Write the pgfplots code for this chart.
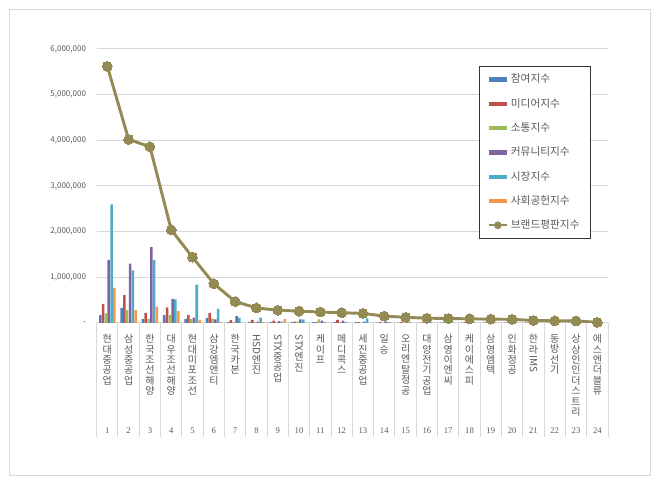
\documentclass[border=0pt]{standalone}
\usepackage{fontspec}
\setmainfont{Noto Sans CJK KR}
\newfontfamily\numfont{Liberation Serif}
\usepackage{graphicx}
\usepackage{pgfplots}
\pgfplotsset{compat=1.18}

\definecolor{cA}{HTML}{4F81BD}
\definecolor{cB}{HTML}{C0504D}
\definecolor{cC}{HTML}{9BBB59}
\definecolor{cD}{HTML}{8064A2}
\definecolor{cE}{HTML}{4BACC6}
\definecolor{cF}{HTML}{F79646}
\definecolor{cLine}{HTML}{948A54}
\definecolor{txt}{HTML}{595959}
\definecolor{grd}{HTML}{D9D9D9}

% stacked (vertical) tick label, one character per row
\newcommand\vl[1]{\vbox{\baselineskip=7.8pt\lineskiplimit=0pt\lineskip=0.6pt
  \halign{\hfil##\hfil\cr#1\crcr}}}
\newcommand\rl[1]{\raisebox{6pt}{\rotatebox{-90}{#1}}}

\pgfplotsset{
  barleg/.style={legend image code/.code={\fill[##1] (0pt,-1.6pt) rectangle (14pt,1.6pt);}},
}

% values: 참여, 미디어, 소통, 커뮤니티, 시장, 사회공헌, 브랜드평판
\pgfplotstableread{
x   a       b       c       d        e        f       t
1   175000  420000  210000  1380000  2600000  770000  5620000
2   330000  610000  280000  1300000  1150000  280000  4020000
3   90000   220000  90000   1660000  1380000  360000  3860000
4   170000  340000  170000  530000   520000   260000  2040000
5   90000   170000  90000   120000   840000   70000   1440000
6   110000  220000  100000  80000    310000   20000   860000
7   20000   65000   20000   150000   120000   10000   470000
8   20000   70000   20000   30000    120000   20000   330000
9   20000   50000   20000   40000    30000    90000   280000
10  20000   30000   30000   80000    80000    10000   260000
11  20000   20000   80000   50000    20000    10000   240000
12  20000   70000   20000   50000    20000    10000   225000
13  20000   20000   10000   30000    100000   10000   210000
14  10000   20000   10000   30000    20000    10000   150000
15  10000   20000   10000   25000    20000    5000    125000
16  10000   15000   10000   20000    20000    5000    105000
17  10000   15000   10000   20000    15000    5000    100000
18  10000   15000   8000    15000    15000    5000    90000
19  8000    12000   8000    15000    15000    5000    85000
20  8000    12000   8000    15000    12000    5000    80000
21  6000    10000   6000    10000    10000    4000    55000
22  6000    10000   6000    10000    8000     4000    48000
23  6000    8000    6000    8000     8000     4000    45000
24  3000    4000    3000    4000     4000     2000    15000
}\data

\begin{document}
\begin{tikzpicture}
\path (0pt,0pt) rectangle (495pt,363.75pt);
\draw[grd, line width=0.75pt] (7.1pt,6.75pt) rectangle (487.5pt,356.6pt);
\begin{axis}[
  at={(72.5pt,121.5pt)}, anchor=south west,
  scale only axis, width=383.5pt, height=205.5pt,
  xmin=0.5, xmax=24.5, ymin=0, ymax=6000000,
  axis line style={draw=none},
  ymajorgrids, grid style={grd, line width=0.75pt},
  xtick pos=bottom, ytick pos=left,
  tick align=outside, major tick length=0pt,
  minor tick length=85.5pt,
  minor x tick style={grd, line width=0.75pt},
  minor xtick={0.5,1.5,...,24.5},
  scaled y ticks=false,
  ytick={0,1000000,2000000,3000000,4000000,5000000,6000000},
  yticklabels={{-},{1,000,000},{2,000,000},{3,000,000},{4,000,000},{5,000,000},{6,000,000}},
  yticklabel style={font=\fontsize{6}{7}\selectfont, text=txt, xshift=-4.5pt},
  xtick={1,...,24},
  xticklabels={
    {\vl{현\cr 대\cr 중\cr 공\cr 업}},
    {\vl{삼\cr 성\cr 중\cr 공\cr 업}},
    {\vl{한\cr 국\cr 조\cr 선\cr 해\cr 양}},
    {\vl{대\cr 우\cr 조\cr 선\cr 해\cr 양}},
    {\vl{현\cr 대\cr 미\cr 포\cr 조\cr 선}},
    {\vl{삼\cr 강\cr 엠\cr 앤\cr 티}},
    {\vl{한\cr 국\cr 카\cr 본}},
    {\vl{\rl{HSD}\cr 엔\cr 진}},
    {\vl{\rl{STX}\cr 중\cr 공\cr 업}},
    {\vl{\rl{STX}\cr 엔\cr 진}},
    {\vl{케\cr 이\cr 프}},
    {\vl{메\cr 디\cr 콕\cr 스}},
    {\vl{세\cr 진\cr 중\cr 공\cr 업}},
    {\vl{일\cr 승}},
    {\vl{오\cr 리\cr 엔\cr 탈\cr 정\cr 공}},
    {\vl{대\cr 양\cr 전\cr 기\cr 공\cr 업}},
    {\vl{삼\cr 영\cr 이\cr 엔\cr 씨}},
    {\vl{케\cr 이\cr 에\cr 스\cr 피}},
    {\vl{삼\cr 영\cr 엠\cr 텍}},
    {\vl{인\cr 화\cr 정\cr 공}},
    {\vl{한\cr 라\cr \rl{IMS}}},
    {\vl{동\cr 방\cr 선\cr 기}},
    {\vl{상\cr 상\cr 인\cr 인\cr 더\cr 스\cr 트\cr 리}},
    {\vl{에\cr 스\cr 엔\cr 더\cr 블\cr 류}}},
  xticklabel style={font=\fontsize{7.5}{9}\selectfont, text=txt, anchor=north, yshift=-5pt},
  extra x ticks={1,...,24},
  extra x tick labels={1,2,3,4,5,6,7,8,9,10,11,12,13,14,15,16,17,18,19,20,21,22,23,24},
  extra x tick style={grid=none, major tick length=0pt,
    xticklabel style={font=\numfont\fontsize{6.5}{7}\selectfont, anchor=base, yshift=-78pt}},
  legend style={at={(0.748,0.939)}, anchor=north west, draw=black!80, line width=0.6pt,
    font=\fontsize{8}{9.5}\selectfont, text=txt, row sep=6.1pt,
    inner xsep=6pt, inner ysep=4pt},
  legend cell align=left,
]
\addplot[ybar, bar width=1.9pt, bar shift=-5.25pt, fill=cA, draw=none, barleg] table[x=x, y=a] {\data};
\addplot[ybar, bar width=1.9pt, bar shift=-3.15pt, fill=cB, draw=none, barleg] table[x=x, y=b] {\data};
\addplot[ybar, bar width=1.9pt, bar shift=-1.05pt, fill=cC, draw=none, barleg] table[x=x, y=c] {\data};
\addplot[ybar, bar width=1.9pt, bar shift=1.05pt, fill=cD, draw=none, barleg] table[x=x, y=d] {\data};
\addplot[ybar, bar width=1.9pt, bar shift=3.15pt, fill=cE, draw=none, barleg] table[x=x, y=e] {\data};
\addplot[ybar, bar width=1.9pt, bar shift=5.25pt, fill=cF, draw=none, barleg] table[x=x, y=f] {\data};
\addplot[color=cLine, line width=2.2pt, mark=*, mark size=3.7pt,
  mark options={fill=cLine, draw=cLine, line width=0pt},
  legend image code/.code={\draw[cLine, line width=1.5pt] (0pt,0pt) -- (14pt,0pt);
    \fill[cLine] (7pt,0pt) circle (1.7pt);}]
  table[x=x, y=t] {\data};
\legend{참여지수, 미디어지수, 소통지수, 커뮤니티지수, 시장지수, 사회공헌지수, 브랜드평판지수}
\end{axis}
\end{tikzpicture}
\end{document}
